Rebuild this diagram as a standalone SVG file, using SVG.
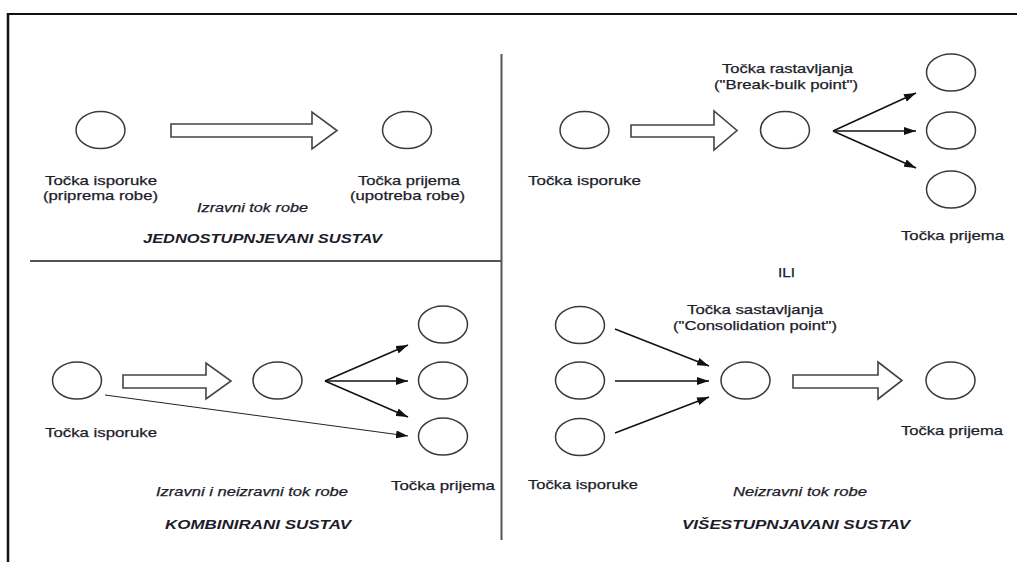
<svg xmlns="http://www.w3.org/2000/svg" width="1017" height="562" viewBox="0 0 1017 562">
<style>
.n{fill:#fff;stroke:#3a3a3a;stroke-width:1.5}
.big{fill:#fff;stroke:#444;stroke-width:1.6;stroke-linejoin:miter}
.c{stroke:#111;stroke-width:1.5;fill:none}
.thin{stroke:#222;stroke-width:1;fill:none}
text{font-family:"Liberation Sans",Arial,sans-serif;font-size:13px;fill:#1c1c2a;stroke:#1c1c2a;stroke-width:0.25;text-anchor:middle}
.i{font-style:italic}
.b{font-weight:bold;font-style:italic;stroke-width:0}
.frame{stroke:#111;stroke-width:2;fill:none}
.div{stroke:#555;stroke-width:2;fill:none}
</style>
<defs>
<marker id="ah" viewBox="0 0 12 8" refX="12" refY="4" markerWidth="12" markerHeight="8" markerUnits="userSpaceOnUse" orient="auto">
<path d="M0,0 L12,4 L0,8 Z" fill="#111"/>
</marker>
</defs>
<rect width="1017" height="562" fill="#fff"/>
<g id="frame">
<line class="frame" x1="7" y1="14" x2="1017" y2="14"/>
<line class="frame" x1="8" y1="13" x2="8" y2="562" style="stroke-width:2.5"/>
<line class="div" x1="501.5" y1="54" x2="501.5" y2="540"/>
<line class="div" x1="30" y1="261" x2="501" y2="261"/>
</g>
<g id="connectors">
<polygon class="big" points="171,124 312,124 312,112 337,130.5 312,149 312,137 171,137"/>
<polygon class="big" points="631,125 714,125 714,111 737,130.5 714,150 714,137 631,137"/>
<polygon class="big" points="123,375 206,375 206,363 231,381 206,399 206,388 123,388"/>
<polygon class="big" points="793,375 878,375 878,362 902,380.5 878,399 878,388 793,388"/>
<line class="c" x1="833" y1="131" x2="916" y2="93" marker-end="url(#ah)"/>
<line class="c" x1="833" y1="131" x2="916" y2="131" marker-end="url(#ah)"/>
<line class="c" x1="833" y1="131" x2="916" y2="168" marker-end="url(#ah)"/>
<line class="c" x1="325" y1="381" x2="408" y2="345" marker-end="url(#ah)"/>
<line class="c" x1="325" y1="381" x2="408" y2="381" marker-end="url(#ah)"/>
<line class="c" x1="325" y1="381" x2="408" y2="417" marker-end="url(#ah)"/>
<line class="thin" x1="105" y1="395" x2="408" y2="436" marker-end="url(#ah)"/>
<line class="c" x1="615" y1="329" x2="709" y2="366" marker-end="url(#ah)"/>
<line class="c" x1="615" y1="381" x2="709" y2="381" marker-end="url(#ah)"/>
<line class="c" x1="615" y1="433" x2="709" y2="397" marker-end="url(#ah)"/>
</g>
<g id="jednostupnjevani">
<g id="n1"><ellipse class="n" cx="100.5" cy="130" rx="24.5" ry="18.5"/></g>
<g id="n2"><ellipse class="n" cx="407" cy="130" rx="24.5" ry="18.5"/></g>
<text x="101" y="185" textLength="112" lengthAdjust="spacingAndGlyphs">Točka isporuke</text>
<text x="100.5" y="200" textLength="115" lengthAdjust="spacingAndGlyphs">(priprema robe)</text>
<text x="409" y="185" textLength="102" lengthAdjust="spacingAndGlyphs">Točka prijema</text>
<text x="407.5" y="200" textLength="115" lengthAdjust="spacingAndGlyphs">(upotreba robe)</text>
<text class="i" x="252.5" y="212" textLength="111" lengthAdjust="spacingAndGlyphs">Izravni tok robe</text>
<text class="b" x="262.5" y="243" textLength="239" lengthAdjust="spacingAndGlyphs">JEDNOSTUPNJEVANI SUSTAV</text>
</g>
<g id="rastavljanje">
<g id="n3"><ellipse class="n" cx="584.5" cy="130" rx="24.5" ry="18.5"/></g>
<g id="n4"><ellipse class="n" cx="785" cy="130" rx="24.5" ry="18.5"/></g>
<g id="n5"><ellipse class="n" cx="951" cy="72.5" rx="24.5" ry="18.5"/></g>
<g id="n6"><ellipse class="n" cx="951" cy="130.5" rx="24.5" ry="18.5"/></g>
<g id="n7"><ellipse class="n" cx="951" cy="189.5" rx="24.5" ry="18.5"/></g>
<text x="787.5" y="73" textLength="131" lengthAdjust="spacingAndGlyphs">Točka rastavljanja</text>
<text x="786" y="89" textLength="144" lengthAdjust="spacingAndGlyphs">("Break-bulk point")</text>
<text x="584.5" y="185" textLength="113" lengthAdjust="spacingAndGlyphs">Točka isporuke</text>
<text x="952.5" y="240" textLength="103" lengthAdjust="spacingAndGlyphs">Točka prijema</text>
<text x="786.5" y="277" textLength="17" lengthAdjust="spacingAndGlyphs">ILI</text>
</g>
<g id="kombinirani">
<g id="n8"><ellipse class="n" cx="77" cy="380.5" rx="24.5" ry="18.5"/></g>
<g id="n9"><ellipse class="n" cx="277.5" cy="380.5" rx="24.5" ry="18.5"/></g>
<g id="n10"><ellipse class="n" cx="443" cy="324.5" rx="24.5" ry="18.5"/></g>
<g id="n11"><ellipse class="n" cx="443" cy="380.5" rx="24.5" ry="18.5"/></g>
<g id="n12"><ellipse class="n" cx="443" cy="436.5" rx="24.5" ry="18.5"/></g>
<text x="101" y="437" textLength="112" lengthAdjust="spacingAndGlyphs">Točka isporuke</text>
<text class="i" x="252" y="496" textLength="192" lengthAdjust="spacingAndGlyphs">Izravni i neizravni tok robe</text>
<text class="b" x="258" y="529" textLength="186" lengthAdjust="spacingAndGlyphs">KOMBINIRANI SUSTAV</text>
<text x="443" y="490" textLength="104" lengthAdjust="spacingAndGlyphs">Točka prijema</text>
</g>
<g id="visestupnjevani">
<g id="n13"><ellipse class="n" cx="580" cy="325" rx="24.5" ry="18.5"/></g>
<g id="n14"><ellipse class="n" cx="580" cy="380.5" rx="24.5" ry="18.5"/></g>
<g id="n15"><ellipse class="n" cx="580" cy="437" rx="24.5" ry="18.5"/></g>
<g id="n16"><ellipse class="n" cx="745.5" cy="380.5" rx="24.5" ry="18.5"/></g>
<g id="n17"><ellipse class="n" cx="950.5" cy="380.5" rx="24.5" ry="18.5"/></g>
<text x="755" y="314" textLength="136" lengthAdjust="spacingAndGlyphs">Točka sastavljanja</text>
<text x="755" y="330" textLength="164" lengthAdjust="spacingAndGlyphs">("Consolidation point")</text>
<text x="952" y="435" textLength="102" lengthAdjust="spacingAndGlyphs">Točka prijema</text>
<text x="583" y="489" textLength="110" lengthAdjust="spacingAndGlyphs">Točka isporuke</text>
<text class="i" x="800" y="496" textLength="134" lengthAdjust="spacingAndGlyphs">Neizravni tok robe</text>
<text class="b" x="796" y="529" textLength="228" lengthAdjust="spacingAndGlyphs">VIŠESTUPNJAVANI SUSTAV</text>
</g>
</svg>
